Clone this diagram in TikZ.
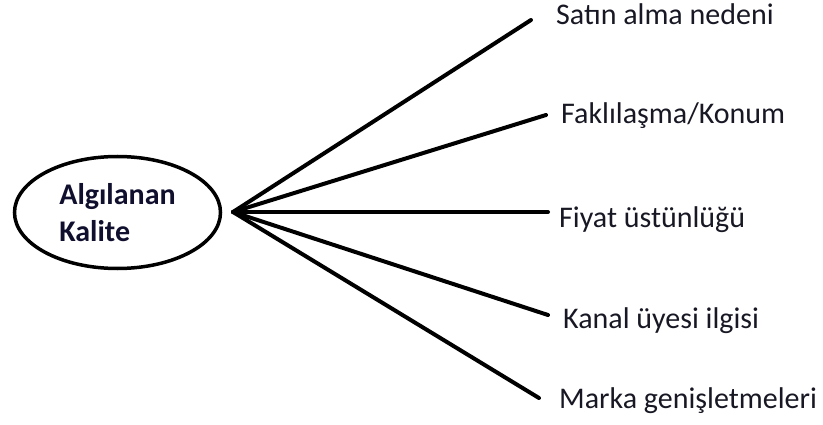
\documentclass[tikz,border=0pt]{standalone}
\usepackage{fontspec}
\setmainfont{Carlito}
\usetikzlibrary{shapes.geometric}
\definecolor{ink}{HTML}{181824}
\definecolor{inkbold}{HTML}{10102E}
\tikzset{
  item/.style={anchor=base west,inner sep=0pt,text=ink,font=\fontsize{30}{36}\selectfont},
  spoke/.style={line width=4pt,line cap=round},
}

\begin{document}
\begin{tikzpicture}[x=1pt,y=-1pt]
\useasboundingbox (0,0) rectangle (823,425);
\node[draw,ellipse,line width=3.5pt,minimum width=206pt,minimum height=112pt,inner sep=0pt,align=left,text=inkbold,font=\fontsize{30}{37}\selectfont\bfseries] (qual) at (117.5,212.5) {Algılanan\\Kalite};
\coordinate (hub) at (233,212);
\coordinate (e1) at (531,20);
\coordinate (e2) at (546,115);
\coordinate (e3) at (548,212);
\coordinate (e4) at (548,315);
\coordinate (e5) at (539,398);
\node[item] (buy)   at (556,25)  {Satın alma nedeni};
\node[item] (diff)  at (561,124) {Faklılaşma/Konum};
\node[item] (price) at (559,228) {Fiyat üstünlüğü};
\node[item] (chan)  at (563,328) {Kanal üyesi ilgisi};
\node[item] (ext)   at (559,408) {Marka genişletmeleri};
\draw[spoke] (hub) -- (e1);
\draw[spoke] (hub) -- (e2);
\draw[spoke] (hub) -- (e3);
\draw[spoke] (hub) -- (e4);
\draw[spoke] (hub) -- (e5);
\end{tikzpicture}
\end{document}
